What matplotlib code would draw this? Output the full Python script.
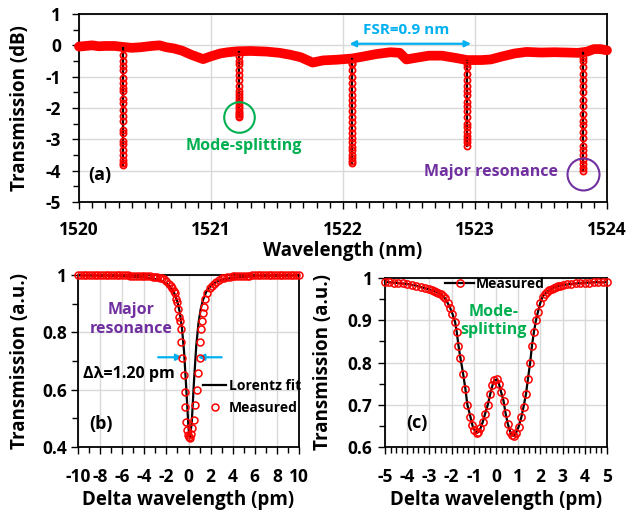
import matplotlib
matplotlib.use("Agg")
import matplotlib.pyplot as plt
from matplotlib.ticker import MultipleLocator

FONT = ['Open Sans', 'DejaVu Sans']
plt.rcParams['font.family'] = FONT
plt.rcParams['font.weight'] = 'bold'
plt.rcParams['axes.unicode_minus'] = False

RED = '#FF0000'
GREEN = '#00B050'
PURPLE = '#7030A0'
CYAN = '#00B0F0'
GRID = '#D9D9D9'

# ---------------- Panel (a) data ----------------
base_wl = [1520.00, 1520.05, 1520.10, 1520.15, 1520.20, 1520.27, 1520.33, 1520.40, 1520.47,
           1520.55, 1520.61, 1520.66, 1520.72, 1520.78, 1520.85, 1520.94, 1521.00, 1521.07,
           1521.13, 1521.20, 1521.30, 1521.42, 1521.52, 1521.60, 1521.68, 1521.77, 1521.85,
           1521.95, 1522.07, 1522.15, 1522.25, 1522.36, 1522.43, 1522.48, 1522.55, 1522.65,
           1522.75, 1522.85, 1522.94, 1523.05, 1523.12, 1523.20, 1523.30, 1523.39, 1523.50,
           1523.60, 1523.70, 1523.78, 1523.85, 1523.90, 1523.95, 1524.00]
base_db = [-0.04, -0.02, 0.00, -0.03, -0.02, -0.02, -0.05, -0.08, -0.06,
           -0.02, 0.00, -0.06, -0.10, -0.17, -0.30, -0.44, -0.35, -0.26,
           -0.22, -0.19, -0.18, -0.20, -0.24, -0.30, -0.38, -0.55, -0.48,
           -0.46, -0.42, -0.36, -0.28, -0.22, -0.24, -0.45, -0.40, -0.33,
           -0.33, -0.40, -0.47, -0.47, -0.45, -0.36, -0.26, -0.21, -0.23,
           -0.22, -0.23, -0.24, -0.20, -0.12, -0.12, -0.16]

dip_centers = [1520.33, 1521.21, 1522.07, 1522.94, 1523.82]
dip1 = [-0.1, -0.3, -0.5, -0.65, -0.8, -1.05, -1.2, -1.35, -1.45, -1.7, -1.85, -2.05, -2.25, -2.4,
        -2.7, -2.8, -3.05, -3.15, -3.35, -3.5, -3.65, -3.75, -3.82]
dip2 = [-0.2, -0.35, -0.5, -0.6, -0.8, -0.95, -1.1, -1.3, -1.45, -1.55, -1.65, -1.75, -1.85, -1.95,
        -2.0, -2.1, -2.15, -2.2, -2.25, -2.3]
dip3 = [-0.45, -0.55, -0.6, -0.8, -1.0, -1.2, -1.4, -1.6, -1.75, -1.9, -2.1, -2.3, -2.45, -2.65,
        -2.8, -2.95, -3.1, -3.25, -3.35, -3.5, -3.6, -3.7, -3.75]
dip4 = [-0.5, -0.6, -0.7, -0.9, -1.1, -1.3, -1.45, -1.6, -1.8, -1.95, -2.1, -2.3, -2.5, -2.6,
        -2.75, -2.9, -3.0, -3.1, -3.2]
dip5 = [-0.25, -0.4, -0.5, -0.7, -0.9, -1.1, -1.3, -1.5, -1.75, -1.95, -2.2, -2.4, -2.55, -2.75,
        -2.95, -3.2, -3.35, -3.5, -3.65, -3.8, -3.9, -4.0]
dips = [dip1, dip2, dip3, dip4, dip5]

a_xticks = [1520, 1521, 1522, 1523, 1524]
a_yticks = [1, 0, -1, -2, -3, -4, -5]

# ---------------- Panel (b) data ----------------
b_fit_x = [-10, -6, -4, -3, -2.5, -2, -1.6, -1.3, -1.0, -0.8, -0.6, -0.4, -0.2, 0, 0.13,
           0.3, 0.5, 0.7, 0.9, 1.1, 1.3, 1.6, 2, 2.5, 3, 4, 6, 10]
b_fit_y = [0.9986, 0.9962, 0.9918, 0.9858, 0.9801, 0.9702, 0.956, 0.9379, 0.9067, 0.8722,
           0.8179, 0.7316, 0.603, 0.466, 0.43, 0.489, 0.6317, 0.7521, 0.8309, 0.8803, 0.912,
           0.9409, 0.962, 0.9757, 0.9832, 0.9906, 0.9959, 0.9985]

b_meas_x = [-10, -9.75, -9.5, -9.25, -9, -8.75, -8.5, -8.25, -8, -7.75, -7.5, -7.25, -7, -6.75,
            -6.5, -6.25, -6, -5.75, -5.5, -5.25, -5, -4.75, -4.5, -4.25, -4, -3.75, -3.5, -3.25,
            -3, -2.82, -2.6, -2.4, -2.22, -2.0, -1.77, -1.62, -1.47, -1.32, -1.26, -1.17, -1.08,
            -0.96, -0.87, -0.78, -0.72, -0.66, -0.57, -0.42, -0.36, -0.33, -0.21, -0.12, -0.06,
            0.05, 0.12, 0.24, 0.36, 0.48, 0.63, 0.78, 0.87, 1.02, 1.08, 1.14, 1.23, 1.32, 1.38,
            1.53, 1.68, 1.92, 2.1, 2.28, 2.5, 2.73, 3.0, 3.25, 3.5, 3.75, 4, 4.25, 4.5, 4.75, 5,
            5.25, 5.5, 5.75, 6, 6.25, 6.5, 6.75, 7, 7.25, 7.5, 7.75, 8, 8.25, 8.5, 8.75, 9, 9.25,
            9.5, 9.75, 10]
b_meas_y = [1.0, 1.0, 1.0, 1.0, 1.0, 1.0, 1.0, 1.0, 1.0, 1.0, 1.0, 1.0, 1.0, 0.999,
            0.999, 0.999, 0.999, 0.999, 0.999, 0.998, 0.998, 0.998, 0.997, 0.997, 0.996, 0.996, 0.995, 0.994,
            0.993, 0.992, 0.99, 0.988, 0.985, 0.978, 0.97, 0.962, 0.954, 0.945, 0.936, 0.915, 0.907,
            0.88, 0.852, 0.84, 0.81, 0.767, 0.71, 0.65, 0.593, 0.538, 0.488, 0.46, 0.442,
            0.435, 0.43, 0.445, 0.465, 0.494, 0.546, 0.6, 0.657, 0.71, 0.767, 0.81, 0.84, 0.866, 0.89,
            0.915, 0.936, 0.954, 0.962, 0.969, 0.977, 0.983, 0.988, 0.99, 0.992, 0.994, 0.995, 0.996, 0.997, 0.997, 0.998,
            0.998, 0.998, 0.999, 0.999, 0.999, 0.999, 0.999, 1.0, 1.0, 1.0, 1.0, 1.0, 1.0, 1.0, 1.0, 1.0, 1.0,
            1.0, 1.0, 1.0]

# ---------------- Panel (c) data ----------------
c_x = [-5.0, -4.8, -4.6, -4.4, -4.2, -4.0, -3.8, -3.6, -3.4, -3.2, -3.0, -2.9, -2.8, -2.7, -2.6,
       -2.5, -2.4, -2.3, -2.17, -2.07, -1.96, -1.84, -1.77, -1.69, -1.60, -1.48, -1.38, -1.29,
       -1.15, -1.06, -0.97, -0.86, -0.79, -0.70, -0.59, -0.49, -0.37, -0.26, -0.16, -0.07, 0.04,
       0.13, 0.23, 0.34, 0.43, 0.53, 0.64, 0.71, 0.80, 0.89, 1.02, 1.14, 1.24, 1.35, 1.44, 1.54,
       1.62, 1.71, 1.80, 1.89, 1.99, 2.10, 2.2, 2.3, 2.4, 2.5, 2.6, 2.7, 2.8, 2.9, 3.0, 3.2, 3.4,
       3.6, 3.8, 4.0, 4.2, 4.4, 4.6, 4.8, 5.0]
c_y = [0.990, 0.990, 0.989, 0.988, 0.987, 0.986, 0.984, 0.982, 0.979, 0.976, 0.973, 0.971, 0.969,
       0.967, 0.965, 0.962, 0.958, 0.952, 0.94, 0.93, 0.915, 0.895, 0.873, 0.84, 0.81, 0.773,
       0.738, 0.70, 0.671, 0.651, 0.64, 0.633, 0.636, 0.644, 0.66, 0.679, 0.70, 0.725, 0.746,
       0.758, 0.76, 0.75, 0.73, 0.709, 0.68, 0.655, 0.636, 0.628, 0.626, 0.632, 0.648, 0.67,
       0.695, 0.725, 0.762, 0.80, 0.84, 0.873, 0.90, 0.92, 0.94, 0.956, 0.962, 0.967, 0.971,
       0.974, 0.977, 0.979, 0.981, 0.982, 0.983, 0.985, 0.986, 0.987, 0.988, 0.989, 0.989,
       0.990, 0.990, 0.990, 0.990]

W, H = 644, 513
fig = plt.figure(figsize=(W / 100, H / 100), dpi=100)

TICK = 12.5
LAB = 13.5


def ax_px(l, r, t, b):
    return fig.add_axes([l / W, 1 - b / H, (r - l) / W, (b - t) / H])


def style(ax, xpad, ypad):
    for s in ax.spines.values():
        s.set_color('black')
        s.set_linewidth(1.3)
    ax.tick_params(which='both', direction='out', color='black', width=1.0,
                   labelsize=TICK)
    ax.tick_params(which='major', length=5)
    ax.tick_params(which='minor', length=4)
    ax.tick_params(axis='x', which='major', pad=xpad)
    ax.tick_params(axis='y', which='major', pad=ypad)
    ax.grid(True, which='major', color=GRID, linewidth=1.0)
    ax.set_axisbelow(True)
    for lab in ax.get_xticklabels() + ax.get_yticklabels():
        lab.set_fontweight('bold')


# ---------- (a) ----------
axa = ax_px(79, 607, 14, 202)
axa.plot(base_wl, base_db, color=RED, lw=7, solid_capstyle='round', zorder=3, clip_on=False)
for c, vals in zip(dip_centers, dips):
    xs = [c] * len(vals)
    axa.plot(xs, vals, color='black', lw=1.6, zorder=4)
    axa.plot(xs, vals, linestyle='none', marker='o', ms=4.4, mfc='none', mec=RED, mew=1.3, zorder=5)
axa.set_xlim(1520, 1524)
axa.set_ylim(-5, 1)
axa.set_xticks(a_xticks)
axa.set_yticks(a_yticks)
axa.xaxis.set_minor_locator(MultipleLocator(0.1))
axa.yaxis.set_minor_locator(MultipleLocator(0.5))
style(axa, 9, 8)
axa.set_ylabel('Transmission (dB)', fontsize=LAB, fontweight='bold')
axa.yaxis.set_label_coords(-0.093, 0.5)
axa.set_xlabel('Wavelength (nm)', fontsize=LAB, fontweight='bold')
axa.xaxis.set_label_coords(0.5, -0.205)
axa.text(1520.16, -4.15, '(a)', fontsize=13, fontweight='bold', ha='center', va='center')
axa.plot([dip_centers[1]], [min(dip2)], marker='o', ms=22, mfc='none', mec=GREEN, mew=1.5,
         zorder=6)
axa.text(1521.25, -3.2, 'Mode-splitting', color=GREEN, fontsize=11.5, fontweight='bold',
         ha='center', va='center')
axa.plot([dip_centers[4]], [min(dip5) - 0.1], marker='o', ms=23, mfc='none', mec=PURPLE, mew=1.5,
         zorder=6, clip_on=False)
axa.text(1523.12, -4.05, 'Major resonance', color=PURPLE, fontsize=11.5, fontweight='bold',
         ha='center', va='center')
axa.annotate('', xy=(dip_centers[2] - 0.02, 0.05), xytext=(dip_centers[3] + 0.03, 0.05),
             arrowprops=dict(arrowstyle='<|-|>', color=CYAN, lw=1.6, mutation_scale=9,
                             shrinkA=0, shrinkB=0))
axa.text(1522.48, 0.49, 'FSR=0.9 nm', color=CYAN, fontsize=11, fontweight='bold',
         ha='center', va='center')

# ---------- (b) ----------
axb = ax_px(78, 299, 275, 447)
fit_line, = axb.plot(b_fit_x, b_fit_y, color='black', lw=1.6, zorder=4, label='Lorentz fit')
meas_pts, = axb.plot(b_meas_x, b_meas_y, linestyle='none', marker='o', ms=5, mfc='none',
                     mec=RED, mew=1.1, zorder=5, clip_on=False, label='Measured')
axb.set_xlim(-10, 10)
axb.set_ylim(0.4, 1.0)
axb.set_xticks(range(-10, 11, 2))
axb.set_yticks([0.4, 0.6, 0.8, 1.0])
axb.set_yticklabels(['0.4', '0.6', '0.8', '1'])
axb.xaxis.set_minor_locator(MultipleLocator(1))
axb.yaxis.set_minor_locator(MultipleLocator(0.1))
style(axb, 10, 3)
axb.set_ylabel('Transmission (a.u.)', fontsize=LAB, fontweight='bold')
axb.yaxis.set_label_coords(-0.215, 0.5)
axb.set_xlabel('Delta wavelength (pm)', fontsize=LAB, fontweight='bold')
axb.xaxis.set_label_coords(0.5, -0.25)
axb.text(-5.2, 0.845, 'Major\nresonance', color=PURPLE, fontsize=11.5, fontweight='bold',
         ha='center', va='center', linespacing=1.25)
axb.text(-5.4, 0.655, 'Δλ=1.20 pm', fontsize=11.5, fontweight='bold', ha='center',
         va='center', family=FONT)
axb.text(-7.9, 0.48, '(b)', fontsize=13, fontweight='bold', ha='center', va='center')
axb.annotate('', xy=(-0.55, 0.713), xytext=(-2.75, 0.713),
             arrowprops=dict(arrowstyle='-|>', color=CYAN, lw=1.6, mutation_scale=9,
                             shrinkA=0, shrinkB=0))
axb.annotate('', xy=(0.85, 0.713), xytext=(3.0, 0.713),
             arrowprops=dict(arrowstyle='-|>', color=CYAN, lw=1.6, mutation_scale=9,
                             shrinkA=0, shrinkB=0))
axb.legend(handles=[fit_line, meas_pts], loc='center left', bbox_to_anchor=(0.565, 0.29),
           frameon=False, handlelength=1.7, handletextpad=0.15,
           labelspacing=0.6, borderpad=0, borderaxespad=0, prop={'weight': 'bold', 'size': 10})

# ---------- (c) ----------
axc = ax_px(385, 607, 278, 447)
meas_c, = axc.plot(c_x, c_y, color='black', lw=1.6, marker='o', ms=5.2, mfc='none', mec=RED,
                   mew=1.1, zorder=4, clip_on=False, label='Measured')
axc.set_xlim(-5, 5)
axc.set_ylim(0.6, 1.0)
axc.set_xticks(range(-5, 6))
axc.set_yticks([0.6, 0.7, 0.8, 0.9, 1.0])
axc.set_yticklabels(['0.6', '0.7', '0.8', '0.9', '1'])
axc.xaxis.set_minor_locator(MultipleLocator(0.25))
axc.yaxis.set_minor_locator(MultipleLocator(0.05))
style(axc, 10, 4)
axc.set_ylabel('Transmission (a.u.)', fontsize=LAB, fontweight='bold')
axc.yaxis.set_label_coords(-0.235, 0.5)
axc.set_xlabel('Delta wavelength (pm)', fontsize=LAB, fontweight='bold')
axc.xaxis.set_label_coords(0.5, -0.255)
axc.text(-0.1, 0.898, 'Mode-\nsplitting', color=GREEN, fontsize=11.5, fontweight='bold',
         ha='center', va='center', linespacing=1.15)
axc.text(-3.56, 0.657, '(c)', fontsize=13, fontweight='bold', ha='center', va='center')
axc.legend(handles=[meas_c], loc='center left', bbox_to_anchor=(0.27, 0.965),
           frameon=False, handlelength=2.1, handletextpad=0.1, borderpad=0,
           borderaxespad=0, prop={'weight': 'bold', 'size': 10})

fig.savefig('out.png', dpi=100)
